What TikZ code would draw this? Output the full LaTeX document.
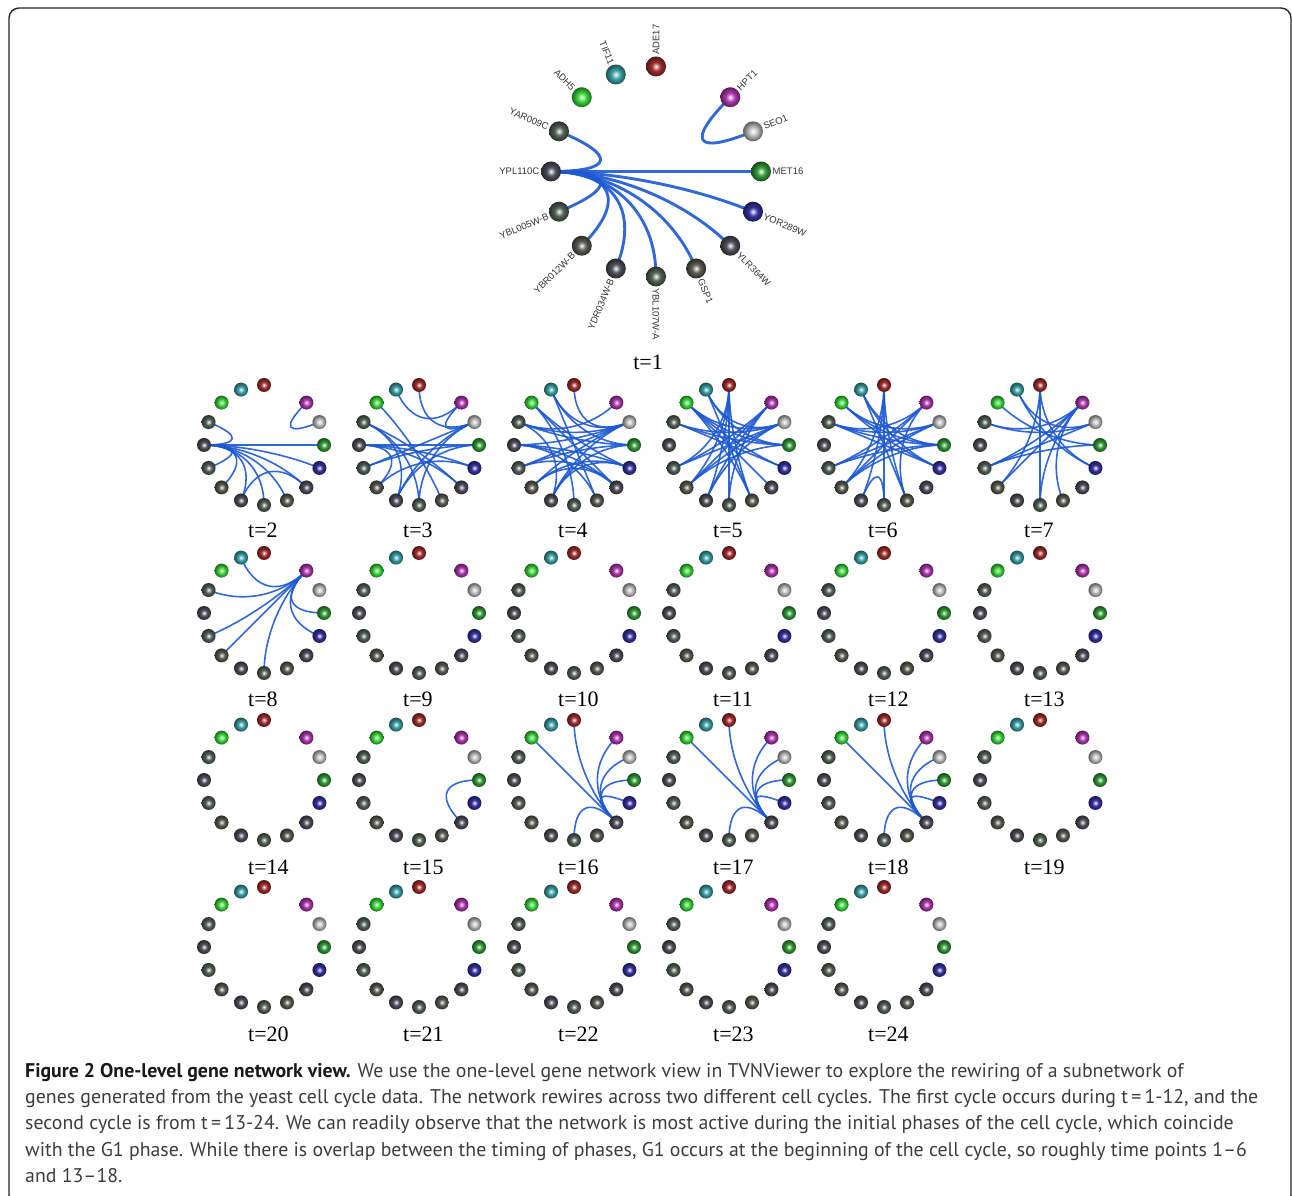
\documentclass[tikz,border=0pt]{standalone}
\usepackage{fontspec}
\setmainfont{Liberation Serif}
\newfontfamily\capfont{PT Sans}
\newfontfamily\lblfont{Liberation Sans}
\usetikzlibrary{calc}
\pgfdeclarelayer{bg}
\pgfsetlayers{bg,main}
\colorlet{nodecol}{gray}
\pgfdeclareradialshading[nodecol]{glossy}{\pgfpoint{0bp}{0bp}}{color(0bp)=(white); color(4bp)=(nodecol!40!white); color(11bp)=(nodecol); color(19bp)=(nodecol!70!black); color(25bp)=(nodecol!50!black); color(50bp)=(nodecol!50!black)}
\definecolor{cA}{RGB}{160,45,45}
\definecolor{cT}{RGB}{60,160,165}
\definecolor{cAd}{RGB}{60,215,60}
\definecolor{cH}{RGB}{175,55,175}
\definecolor{cS}{RGB}{190,190,190}
\definecolor{cM}{RGB}{50,155,55}
\definecolor{cY}{RGB}{55,50,160}
\definecolor{cGa}{RGB}{80,80,92}
\definecolor{cGb}{RGB}{85,98,88}
\definecolor{cGc}{RGB}{92,92,82}
\definecolor{edgeblue}{RGB}{28,88,208}
\definecolor{captext}{RGB}{60,60,60}
\def\slots{0/cA,2/cH,3/cS,4/cM,5/cY,6/cGa,7/cGc,8/cGb,9/cGa,10/cGc,11/cGb,12/cGa,13/cGb,14/cAd,15/cT}
\def\names{0/ADE17,2/HPT1,3/SEO1,4/MET16,5/YOR289W,6/YLR364W,7/GSP1,8/YBL107W-A,9/YDR034W-B,10/YBR012W-B,11/YBL005W-B,12/YPL110C,13/YAR009C,14/ADH5,15/TIF11}
\tikzset{
  gn/.style={circle, inner sep=0pt, shade, shading=glossy, /utils/exec={\colorlet{nodecol}{#1}}},
  gedge/.style={draw=edgeblue, line width=1.6pt, draw opacity=0.9},
  glabel/.style={font=\lblfont\fontsize{9.5}{10}\selectfont, text=black!80, inner sep=0pt},
  tlab/.style={font=\fontsize{22}{24}\selectfont, text=black, inner sep=0pt, anchor=base west},
  capline/.style={font=\capstyle, text=captext, inner sep=0pt, anchor=base west}
}
% #1 name, #2 cx, #3 cy (image coords), #4 radius, #5 node diameter
\newcommand\gnodes[5]{%
  \foreach \k/\c in \slots {%
    \node[gn=\c, minimum size=#5] (#1-\k) at ({#2+#4*cos(90-22.5*\k)},{1195-#3+#4*sin(90-22.5*\k)}) {};
  }%
  \coordinate (#1-c) at (#2,{1195-#3});
}
% [#1 options] #2 name, #3 edge list
\newcommand\gedges[3][]{%
  \begin{pgfonlayer}{bg}
  \foreach \a/\b in {#3} {
    \draw[gedge,#1] (#2-\a.center) .. controls ($(#2-\a.center)!0.6!(#2-c)$) and ($(#2-\b.center)!0.6!(#2-c)$) .. (#2-\b.center);
  }
  \end{pgfonlayer}
}
\newlength\capw
\newcommand\capstyle{\capfont\fontsize{\capsz}{\capsz}\selectfont}
\begin{document}
\settowidth\capw{\capfont\fontsize{20}{24}\selectfont genes generated from the yeast cell cycle data. The network rewires across two different cell cycles. The first cycle occurs during t\,=\,1-12, and the}%
\pgfmathsetmacro\capsz{(1233/\capw)*20}%
\begin{tikzpicture}[x=1pt,y=1pt]
\useasboundingbox (0,0) rectangle (1292,1195);
\draw[line width=1.4pt, black!85, rounded corners=10pt] (9,1187) rectangle (1291,-10);

% ---------- t=1 (large) ----------
\gnodes{top}{656}{171.5}{105}{20}
\gedges[line width=2.9pt]{top}{12/13,2/3,12/4,12/5,12/6,12/7,12/8,12/9,12/10,12/11}
\foreach \k/\nm in \names {
  \pgfmathsetmacro\ang{90-22.5*\k}
  \ifnum\k<9
    \node[glabel, anchor=west, rotate=\ang] (lab-\k) at ($(top-\k)+(\ang:11.5)$) {\nm};
  \else
    \node[glabel, anchor=east, rotate=\ang+180] (lab-\k) at ($(top-\k)+(\ang:11.5)$) {\nm};
  \fi
}
\node[tlab, anchor=base] (l1) at (648,1195-370) {t=1};

% ---------- row 1 ----------
\gnodes{n2}{264}{445}{60}{14}
\gedges{n2}{12/13,2/3,12/4,12/5,12/6,12/7,12/8,12/9,12/10,12/11,9/6}
\gnodes{n3}{419}{445}{60}{14}
\gedges{n3}{12/4,15/2,0/3,2/3,14/7,13/9,13/6,13/8,12/5,12/6,12/10,11/4,11/3,10/5,9/3,9/4,8/3}
\gnodes{n4}{574}{445}{60}{14}
\gedges{n4}{0/3,15/3,15/4,2/13,14/5,14/6,13/3,13/4,12/5,12/3,11/3,11/4,10/3,10/6,9/3,9/4,9/13,9/5,8/14,7/15,7/12,6/12,6/11,5/10}
\gnodes{n5}{729}{445}{60}{14}
\gedges{n5}{0/8,0/9,0/10,0/11,0/7,14/3,14/4,14/5,14/6,15/4,15/3,2/9,2/10,2/11,3/13,3/11,3/10,3/9,4/13,4/10,5/13,7/14,7/15,8/2}
\gnodes{n6}{884}{445}{60}{14}
\gedges{n6}{0/8,0/9,0/7,0/10,15/4,15/5,14/3,14/4,2/10,2/11,2/13,3/13,3/11,3/10,4/11,4/13,5/14,5/13,7/15,7/2,9/8,10/4}
\gnodes{n7}{1040}{445}{60}{14}
\gedges{n7}{0/8,0/10,0/5,14/4,15/3,2/13,2/11,2/10,2/8,2/7,3/13,3/11,4/11,15/5}
\node[tlab] (l2) at (248,1195-538) {t=2};
\node[tlab] (l3) at (403,1195-538) {t=3};
\node[tlab] (l4) at (558,1195-538) {t=4};
\node[tlab] (l5) at (713,1195-538) {t=5};
\node[tlab] (l6) at (868,1195-538) {t=6};
\node[tlab] (l7) at (1024,1195-538) {t=7};

% ---------- row 2 ----------
\gnodes{n8}{264}{613}{60}{14}
\gedges{n8}{2/15,2/13,2/11,2/10,2/8,2/4,2/5}
\gnodes{n9}{419}{613}{60}{14}
\gnodes{n10}{574}{613}{60}{14}
\gnodes{n11}{729}{613}{60}{14}
\gnodes{n12}{884}{613}{60}{14}
\gnodes{n13}{1040}{613}{60}{14}
\node[tlab] (l8) at (248,1195-706) {t=8};
\node[tlab] (l9) at (403,1195-706) {t=9};
\node[tlab] (l10) at (558,1195-706) {t=10};
\node[tlab] (l11) at (713,1195-706) {t=11};
\node[tlab] (l12) at (868,1195-706) {t=12};
\node[tlab] (l13) at (1024,1195-706) {t=13};

% ---------- row 3 ----------
\gnodes{n14}{264}{780}{60}{14}
\gnodes{n15}{419}{780}{60}{14}
\gedges{n15}{4/6}
\gnodes{n16}{574}{780}{60}{14}
\gedges{n16}{6/14,6/0,6/2,6/3,6/4,6/5,6/8}
\gnodes{n17}{729}{780}{60}{14}
\gedges{n17}{6/14,6/0,6/2,6/3,6/4,6/5,6/8}
\gnodes{n18}{884}{780}{60}{14}
\gedges{n18}{6/14,6/0,6/2,6/3,6/4,6/5,6/8}
\gnodes{n19}{1040}{780}{60}{14}
\node[tlab] (l14) at (248,1195-874) {t=14};
\node[tlab] (l15) at (403,1195-874) {t=15};
\node[tlab] (l16) at (558,1195-874) {t=16};
\node[tlab] (l17) at (713,1195-874) {t=17};
\node[tlab] (l18) at (868,1195-874) {t=18};
\node[tlab] (l19) at (1024,1195-874) {t=19};

% ---------- row 4 ----------
\gnodes{n20}{264}{947}{60}{14}
\gnodes{n21}{419}{947}{60}{14}
\gnodes{n22}{574}{947}{60}{14}
\gnodes{n23}{729}{947}{60}{14}
\gnodes{n24}{884}{947}{60}{14}
\node[tlab] (l20) at (248,1195-1041) {t=20};
\node[tlab] (l21) at (403,1195-1041) {t=21};
\node[tlab] (l22) at (558,1195-1041) {t=22};
\node[tlab] (l23) at (713,1195-1041) {t=23};
\node[tlab] (l24) at (868,1195-1041) {t=24};

% ---------- caption ----------
\node[capline] (c1) at (25,1195-1077) {\textbf{\color{black!90}Figure 2 One-level gene network view.} We use the one-level gene network view in TVNViewer to explore the rewiring of a subnetwork of};
\node[capline] (c2) at (25,1195-1103) {genes generated from the yeast cell cycle data. The network rewires across two different cell cycles. The first cycle occurs during t\,=\,1-12, and the};
\node[capline] (c3) at (25,1195-1129) {second cycle is from t\,=\,13-24. We can readily observe that the network is most active during the initial phases of the cell cycle, which coincide};
\node[capline] (c4) at (25,1195-1156) {with the G1 phase. While there is overlap between the timing of phases, G1 occurs at the beginning of the cell cycle, so roughly time points 1–6};
\node[capline] (c5) at (25,1195-1182) {and 13–18.};
\end{tikzpicture}
\end{document}
